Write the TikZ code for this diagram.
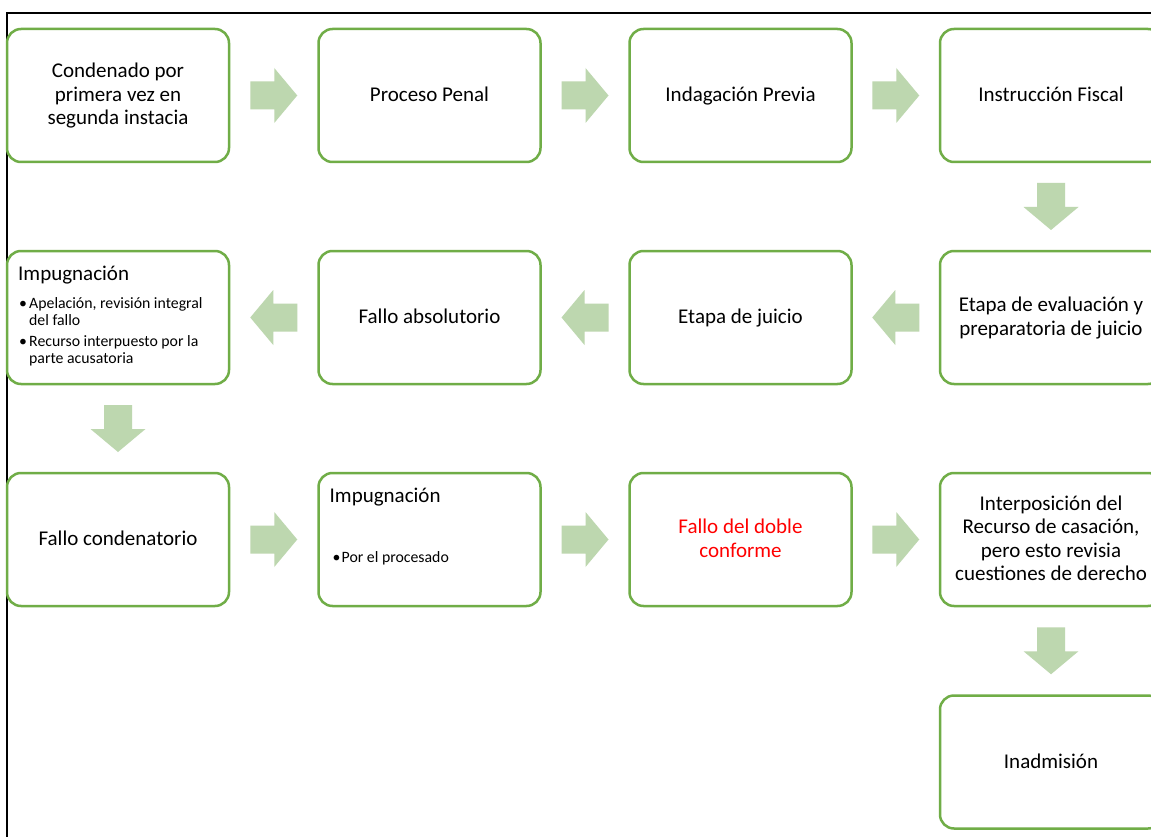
\documentclass[tikz,border=0pt]{standalone}
\usepackage{fontspec}
\setmainfont{Carlito}
\usetikzlibrary{calc}
\definecolor{boxgreen}{HTML}{70AD47}
\definecolor{arrgreen}{HTML}{BDD7AF}
\newcommand\sv{\rule[-5pt]{0pt}{22pt}}
\newcommand\blockarrow[2]{%
  \fill[arrgreen, shift={(#1)}, rotate=#2] (-23.5,-14) -- (0.5,-14) -- (0.5,-27.5) -- (23.5,0) -- (0.5,27.5) -- (0.5,14) -- (-23.5,14) -- cycle;}
\begin{document}
\begin{tikzpicture}[x=1pt,y=-1pt,
  box/.style={draw=boxgreen, line width=2.5pt, rounded corners=14pt, fill=white,
    minimum width=222pt, minimum height=133pt, inner sep=0pt, outer sep=0pt,
    align=center, font=\fontsize{21}{23.5}\selectfont},
  bigtxt/.style={anchor=base west, inner sep=0pt, font=\fontsize{21}{23.5}\selectfont},
  smalltxt/.style={anchor=base west, inner sep=0pt, font=\fontsize{15.8}{17}\selectfont}]
\useasboundingbox (0,0) rectangle (1151,837);
\clip (0,0) rectangle (1151,837);
\fill[white] (0,0) rectangle (1151,837);
\draw[line width=2pt] (7,837) -- (7,13) -- (1151,13);
% row 1
\node[box] (b1) at (118,95.5) {\sv Condenado por\\\sv primera vez en\\\sv segunda instacia};
\node[box] (b2) at (429.5,95.5) {\sv Proceso Penal};
\node[box] (b3) at (740.5,95.5) {\sv Indagación Previa};
\node[box] (b4) at (1051,95.5) {\sv Instrucción Fiscal};
% row 2
\node[box] (b8) at (118,317.5) {};
\node[box] (b7) at (429.5,317.5) {\sv Fallo absolutorio};
\node[box] (b6) at (740.5,317.5) {\sv Etapa de juicio};
\node[box] (b5) at (1051,317.5) {\sv Etapa de evaluación y\\\sv preparatoria de juicio};
% row 3
\node[box] (b9) at (118,539.5) {\sv Fallo condenatorio};
\node[box] (b10) at (429.5,539.5) {};
\node[box, text=red] (b11) at (740.5,539.5) {\sv Fallo del doble\\\sv conforme};
\node[box] (b12) at (1051,539.5) {\sv Interposición del\\\sv Recurso de casación,\\\sv pero esto revisia\\\sv cuestiones de derecho};
% row 4
\node[box] (b13) at (1051,762) {\sv Inadmisión};
% texts inside Impugnacion boxes
\node[bigtxt] (t8) at ($(b8.north west)+(11,29)$) {Impugnación};
\node[smalltxt] (u8a) at ($(b8.north west)+(12,57)$) {•};
\node[smalltxt] (v8a) at ($(b8.north west)+(22,57)$) {Apelación, revisión integral};
\node[smalltxt] (v8b) at ($(b8.north west)+(22,74)$) {del fallo};
\node[smalltxt] (u8b) at ($(b8.north west)+(12,95)$) {•};
\node[smalltxt] (v8c) at ($(b8.north west)+(22,95)$) {Recurso interpuesto por la};
\node[smalltxt] (v8d) at ($(b8.north west)+(22,112)$) {parte acusatoria};
\node[bigtxt] (t10) at ($(b10.north west)+(11,29)$) {Impugnación};
\node[smalltxt] (u10) at ($(b10.north west)+(14,89)$) {•};
\node[smalltxt] (v10) at ($(b10.north west)+(23,89)$) {Por el procesado};
% arrow positions
\coordinate (a12) at ($(b1.east)!0.5!(b2.west)$);
\coordinate (a23) at ($(b2.east)!0.5!(b3.west)$);
\coordinate (a34) at ($(b3.east)!0.5!(b4.west)$);
\coordinate (a45) at ($(b4.south)!0.5!(b5.north)$);
\coordinate (a56) at ($(b5.west)!0.5!(b6.east)$);
\coordinate (a67) at ($(b6.west)!0.5!(b7.east)$);
\coordinate (a78) at ($(b7.west)!0.5!(b8.east)$);
\coordinate (a89) at ($(b8.south)!0.5!(b9.north)$);
\coordinate (a910) at ($(b9.east)!0.5!(b10.west)$);
\coordinate (a1011) at ($(b10.east)!0.5!(b11.west)$);
\coordinate (a1112) at ($(b11.east)!0.5!(b12.west)$);
\coordinate (a1213) at ($(b12.south)!0.5!(b13.north)$);
\blockarrow{a12}{0}
\blockarrow{a23}{0}
\blockarrow{a34}{0}
\blockarrow{a45}{-90}
\blockarrow{a56}{180}
\blockarrow{a67}{180}
\blockarrow{a78}{180}
\blockarrow{a89}{-90}
\blockarrow{a910}{0}
\blockarrow{a1011}{0}
\blockarrow{a1112}{0}
\blockarrow{a1213}{-90}
\end{tikzpicture}
\end{document}
